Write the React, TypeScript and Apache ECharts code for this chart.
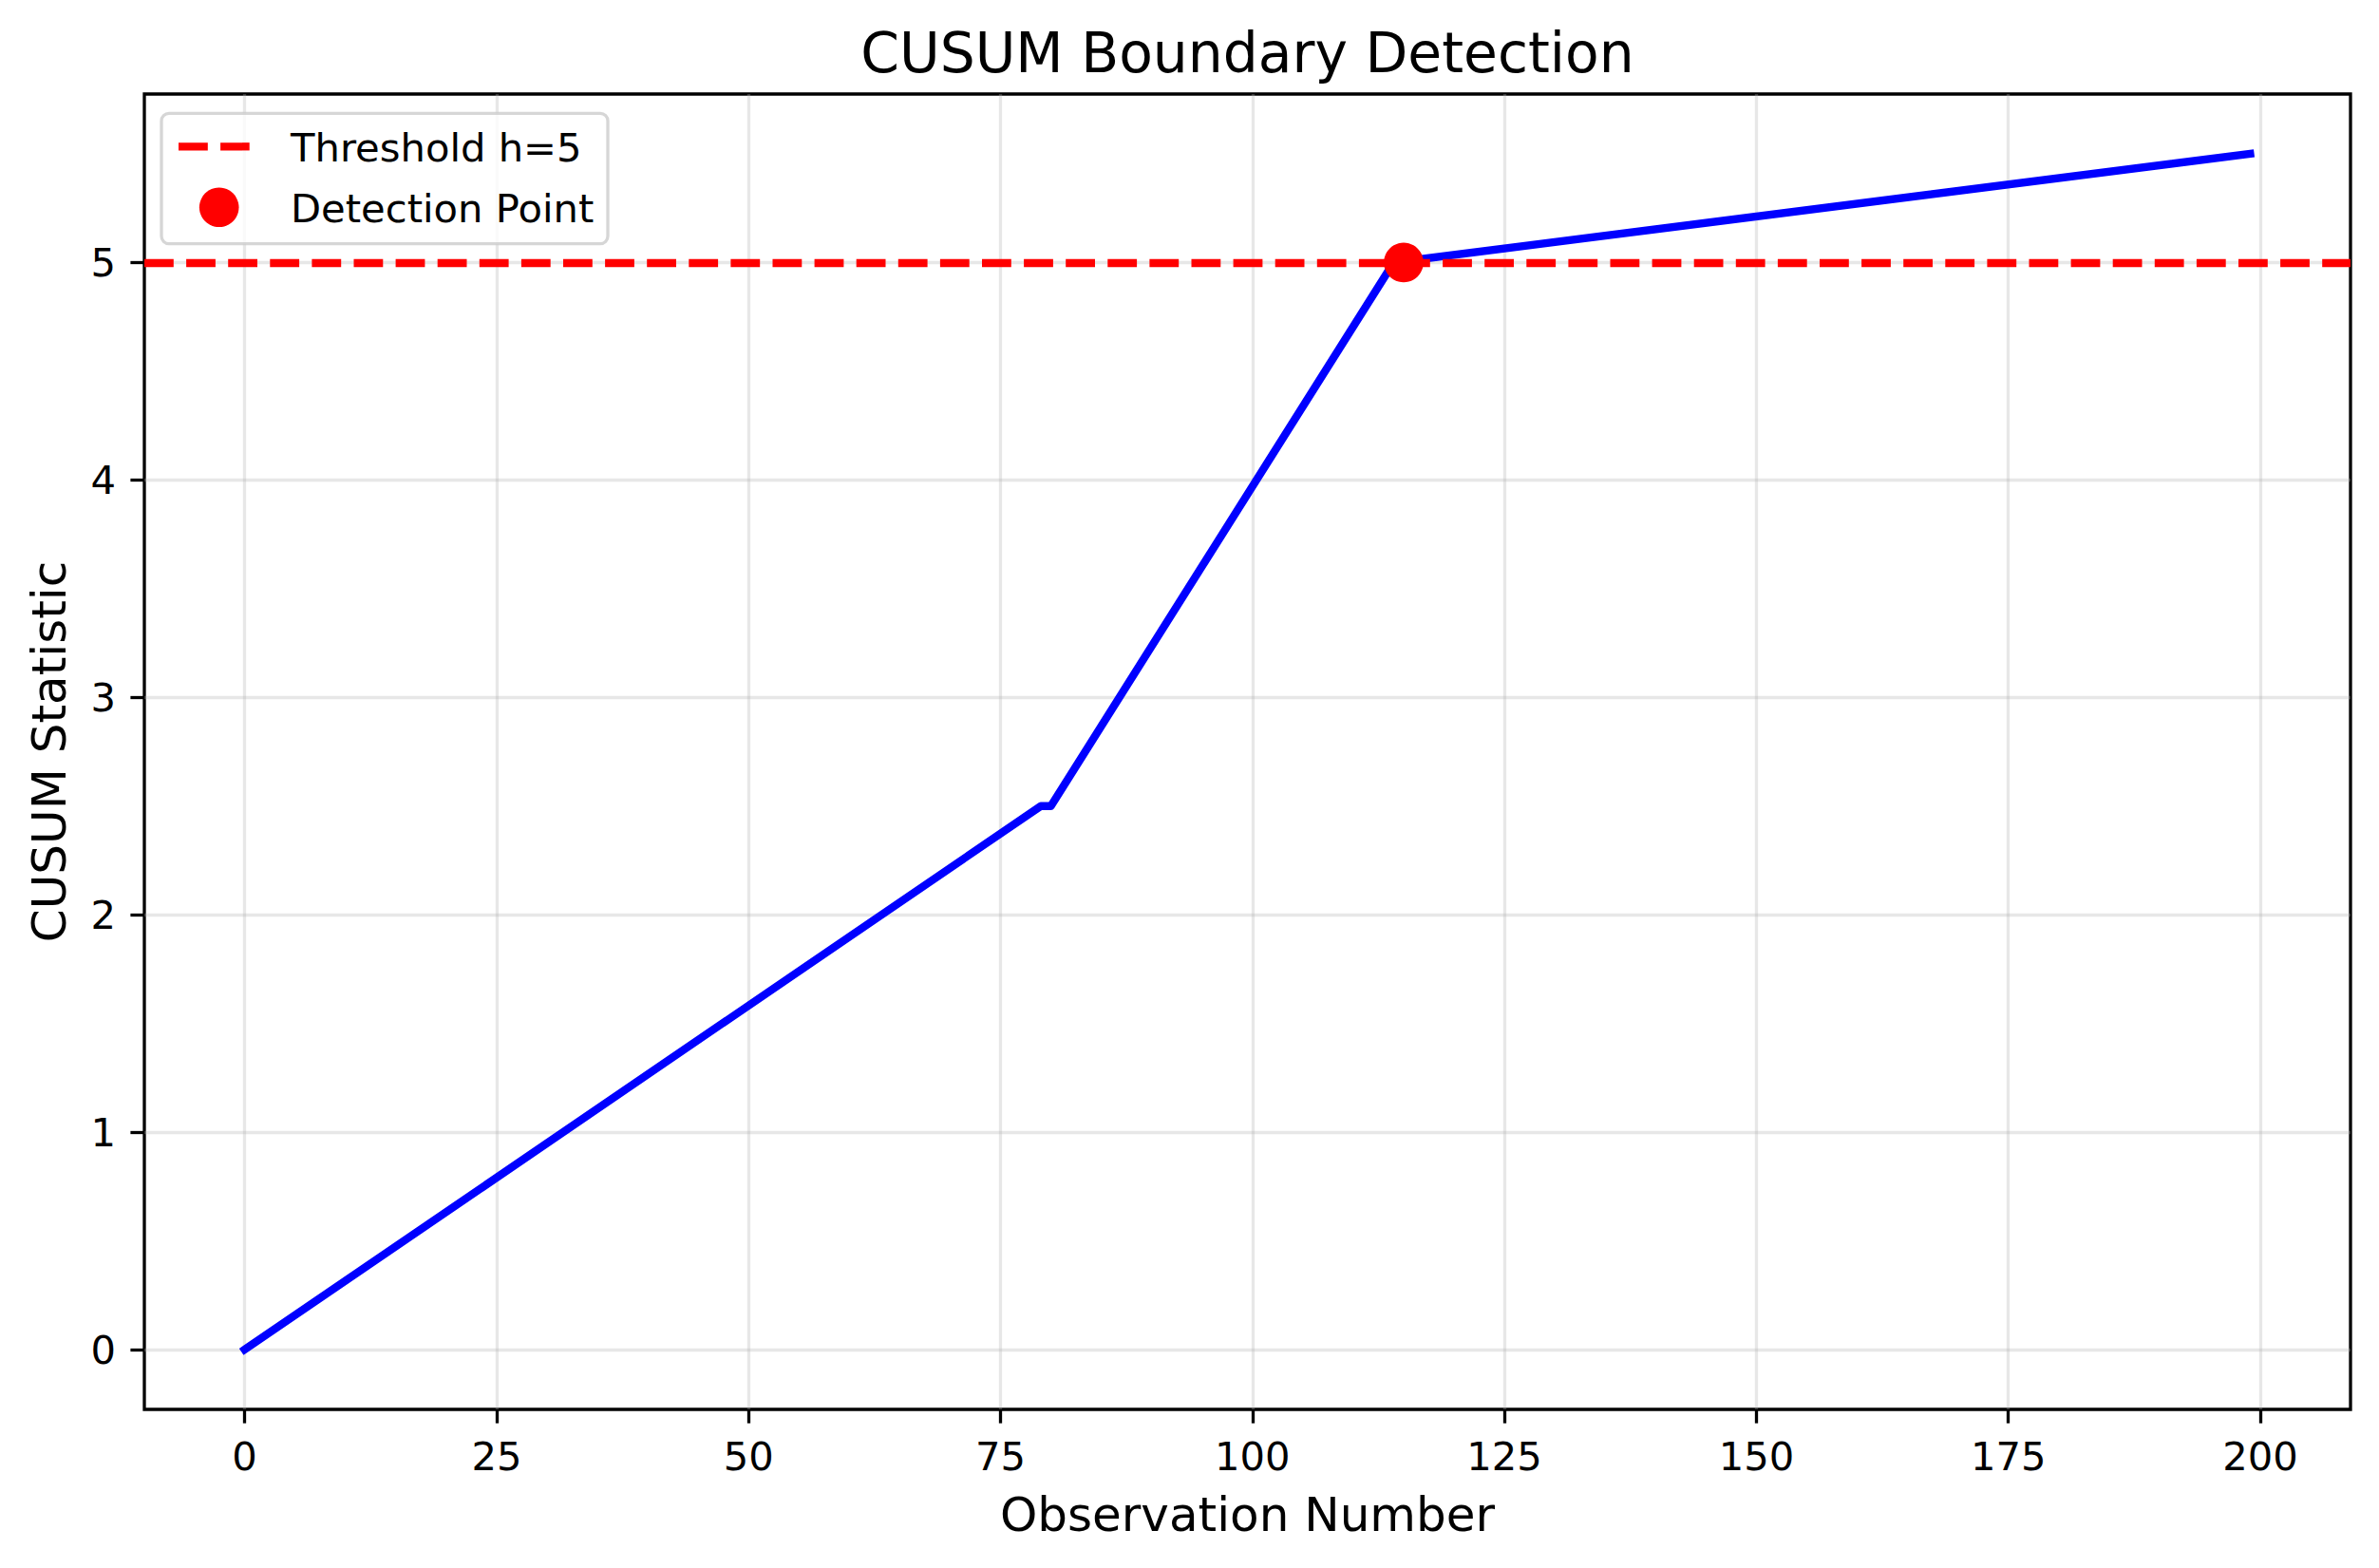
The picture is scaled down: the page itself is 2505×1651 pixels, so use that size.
import React, { useEffect, useRef } from "react";
import * as echarts from "echarts";

// ---- data ----
const obsX: number[] = [0, 79, 80, 114, 199];
const cusumY: number[] = [0, 2.5, 2.5, 5.0, 5.5];
const detectionX: number[] = [115];
const detectionY: number[] = [5.0];
const thresholdH = 5;
const xTicks: number[] = [0, 25, 50, 75, 100, 125, 150, 175, 200];
const yTicks: number[] = [0, 1, 2, 3, 4, 5];
const legendLabels: string[] = ["Threshold h=5", "Detection Point"];

const FONT = "DejaVu Sans";

export default function App() {
  const ref = useRef<HTMLDivElement>(null);
  useEffect(() => {
    if (!ref.current) return;
    const chart = echarts.init(ref.current, null, { renderer: "svg" });
    const lineData = obsX.map((x, i) => [x, cusumY[i]]);
    const detData = detectionX.map((x, i) => [x, detectionY[i]]);
    const gridL = 152, gridR = 2475, gridT = 99, gridB = 1484;
    const option: any = {
      animation: false,
      backgroundColor: "#ffffff",
      title: {
        text: "CUSUM Boundary Detection",
        left: (gridL + gridR) / 2 - 5,
        textAlign: "center",
        top: 22,
        textStyle: { fontSize: 58.3, fontWeight: "normal", color: "#000", fontFamily: FONT },
      },
      grid: {
        left: gridL,
        right: 2505 - gridR,
        top: gridT,
        bottom: 1651 - gridB,
        show: true,
        borderColor: "#000",
        borderWidth: 3.3,
        backgroundColor: "#fff",
      },
      xAxis: {
        type: "value",
        min: -9.95,
        max: 208.95,
        name: "Observation Number",
        nameLocation: "middle",
        nameGap: 86,
        nameTextStyle: { fontSize: 50, color: "#000", fontFamily: FONT },
        axisLine: { show: false, onZero: false },
        axisTick: { show: true, inside: false, length: 14.6, lineStyle: { color: "#000", width: 3.3 }, customValues: xTicks },
        axisLabel: { customValues: xTicks, fontSize: 41.7, color: "#000", margin: 28, fontFamily: FONT },
        splitLine: { show: true, lineStyle: { color: "#b0b0b0", opacity: 0.3, width: 3.3 } },
      },
      yAxis: {
        type: "value",
        min: -0.275,
        max: 5.775,
        name: "CUSUM Statistic",
        nameLocation: "middle",
        nameGap: 75,
        nameTextStyle: { fontSize: 50, color: "#000", fontFamily: FONT },
        axisLine: { show: false, onZero: false },
        axisTick: { show: true, inside: false, length: 14.6, lineStyle: { color: "#000", width: 3.3 }, customValues: yTicks },
        axisLabel: { customValues: yTicks, fontSize: 41.7, color: "#000", margin: 30, fontFamily: FONT },
        splitLine: { show: true, lineStyle: { color: "#b0b0b0", opacity: 0.3, width: 3.3 } },
      },
      series: [
        {
          type: "line",
          name: "CUSUM",
          data: lineData,
          showSymbol: false,
          symbol: "none",
          z: 2,
          lineStyle: { color: "#0000ff", width: 8.3, cap: "square", join: "round" },
        },
        {
          type: "line",
          name: legendLabels[0],
          data: [],
          z: 3,
          markLine: {
            silent: true,
            symbol: ["none", "none"],
            label: { show: false },
            data: [{ yAxis: thresholdH }],
            lineStyle: { color: "#ff0000", width: 8.3, type: [30.8, 13.3], cap: "butt" },
          },
        },
        {
          type: "scatter",
          name: legendLabels[1],
          data: detData,
          symbol: "circle",
          symbolSize: 41.7,
          z: 4,
          itemStyle: { color: "#ff0000", opacity: 1 },
        },
      ],
      graphic: [
        {
          type: "rect",
          z: 100,
          shape: { x: 170, y: 119.3, width: 470, height: 137.4, r: 8 },
          style: { fill: "rgba(255,255,255,0.8)", stroke: "rgba(204,204,204,0.8)", lineWidth: 3.3 },
        },
        {
          type: "line",
          z: 101,
          shape: { x1: 188, y1: 154.3, x2: 262.7, y2: 154.3 },
          style: { stroke: "#ff0000", lineWidth: 8.3, lineDash: [30.8, 13.3], lineCap: "butt" },
        },
        {
          type: "circle",
          z: 101,
          shape: { cx: 230.7, cy: 218.3, r: 20.8 },
          style: { fill: "#ff0000" },
        },
        {
          type: "text",
          z: 101,
          x: 306,
          y: 155.2,
          style: { text: legendLabels[0], fontSize: 41.7, fontFamily: FONT, fill: "#000", textVerticalAlign: "middle", textAlign: "left" },
        },
        {
          type: "text",
          z: 101,
          x: 306,
          y: 219.2,
          style: { text: legendLabels[1], fontSize: 41.7, fontFamily: FONT, fill: "#000", textVerticalAlign: "middle", textAlign: "left" },
        },
      ],
    };
    chart.setOption(option);
    return () => chart.dispose();
  }, []);
  return (
    <div
      ref={ref}
      style={{ position: "fixed", left: 0, top: 0, width: 2505, height: 1651, background: "#fff" }}
    />
  );
}
